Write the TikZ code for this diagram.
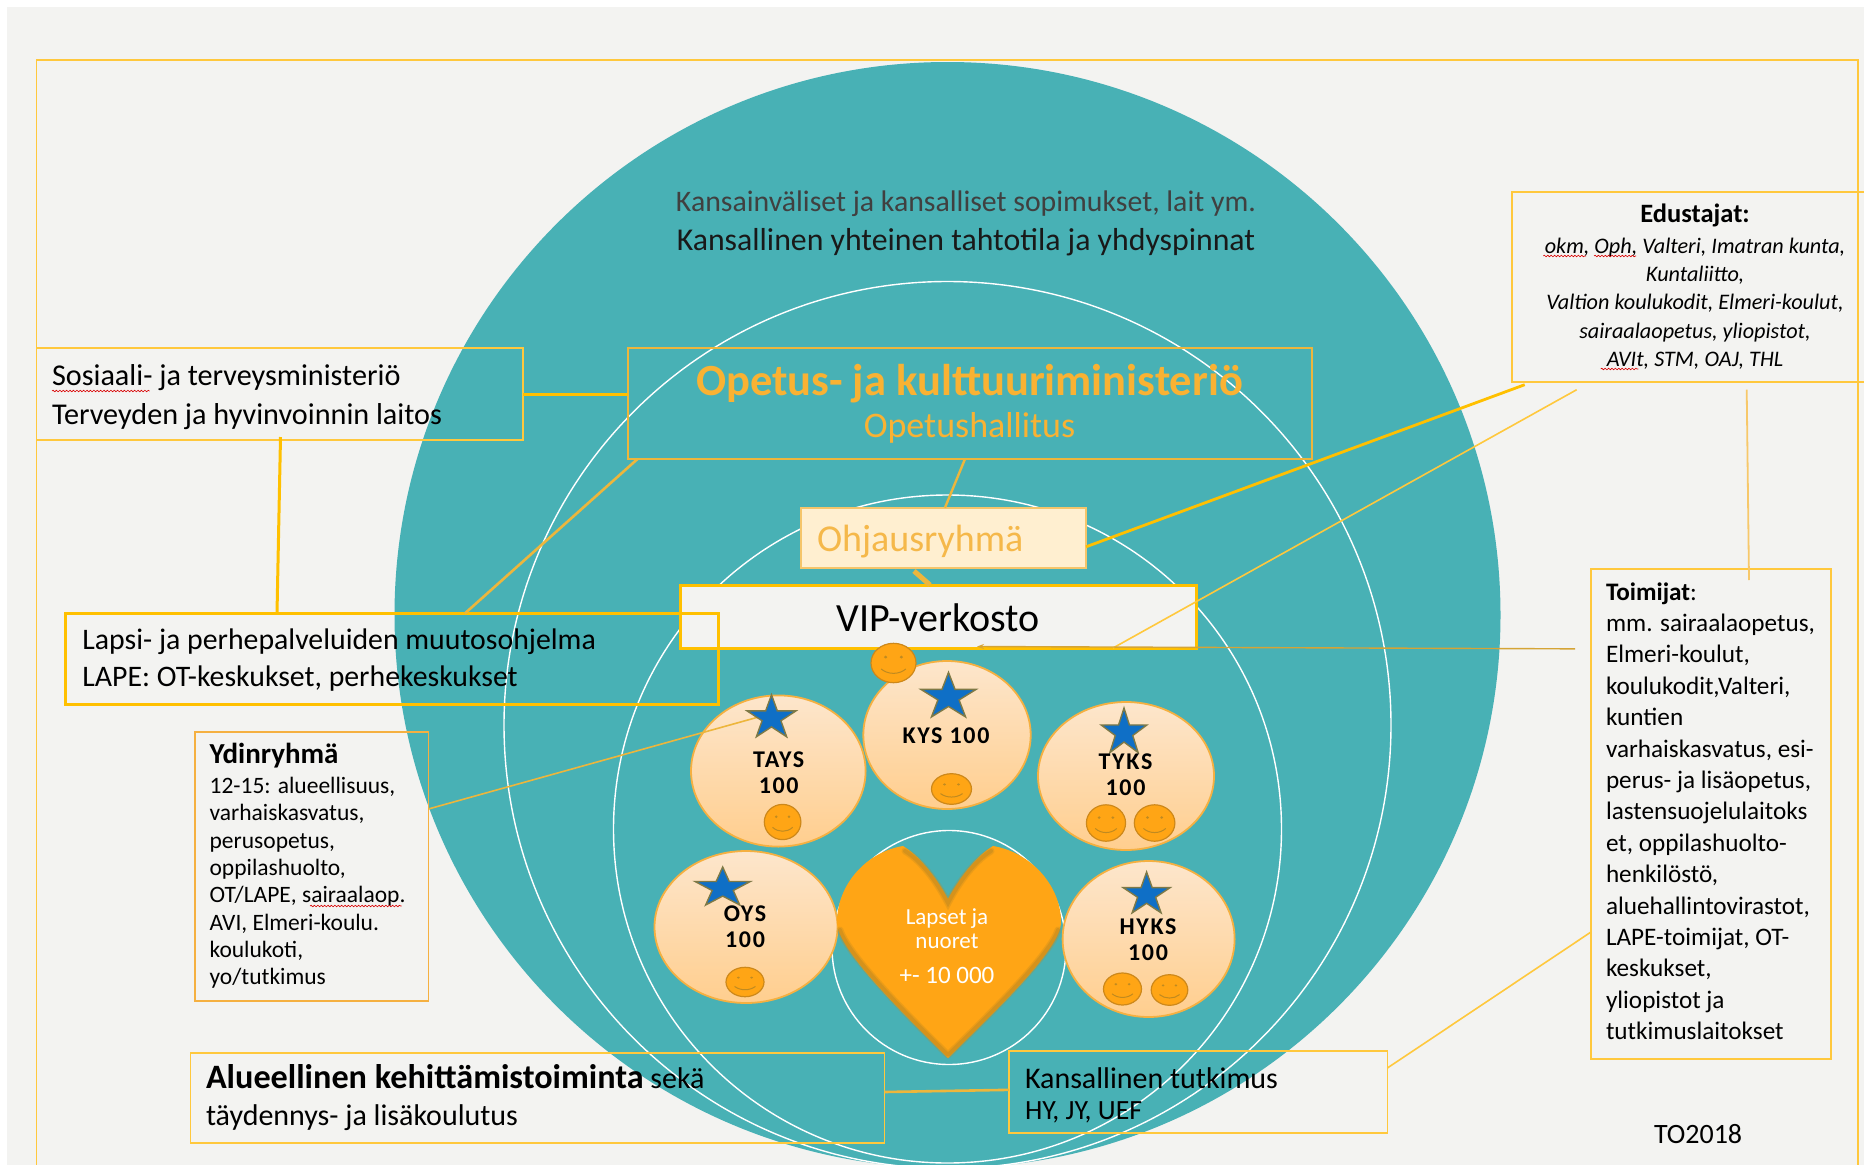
\documentclass[tikz,border=0pt]{standalone}
\usepackage{fontspec}
\setmainfont{Carlito}
\newfontfamily\hospf[LetterSpace=7]{Carlito}
\usetikzlibrary{fit,arrows.meta,decorations.pathmorphing,shapes.geometric}
\definecolor{bgrey}{HTML}{F3F3F1}
\definecolor{teal1}{HTML}{48B1B5}
\definecolor{gold1}{HTML}{FFC000}
\definecolor{gold2}{HTML}{FFC83D}
\definecolor{gold3}{HTML}{EDB63C}
\definecolor{gold4}{HTML}{F5B041}
\definecolor{orangeT}{HTML}{F9B233}
\definecolor{heartO}{HTML}{FFA515}
\definecolor{heartE}{HTML}{C08A20}
\definecolor{starB}{HTML}{0F6FC6}
\definecolor{hospT}{HTML}{FDE6CC}
\definecolor{hospB}{HTML}{FFCE8E}
\definecolor{ohjE}{HTML}{F5C56A}
\definecolor{ohjF}{HTML}{FFEFD0}
\definecolor{ohjT}{HTML}{F5B84A}
\definecolor{lightL}{HTML}{F7C86A}
\newcommand{\fsz}[2]{\fontsize{#1}{#2}\selectfont}
\tikzset{
  x=1pt,y=-1pt,
  rbox/.style={rectangle,inner sep=0pt,outer sep=0pt,draw=#1},
  thinbox/.style={rbox=gold2,line width=1.6pt},
  fatbox/.style={rbox=gold1,line width=3pt},
  txt/.style={inner sep=0pt,outer sep=0pt,align=left,anchor=base west},
  ctxt/.style={inner sep=0pt,outer sep=0pt,align=center,anchor=base},
  hosp/.style={ellipse,inner sep=0pt,draw=gold4,line width=1.8pt,top color=hospT,bottom color=hospB},
  ring/.style={draw=white,line width=1.4pt},
  fatline/.style={draw=gold1,line width=3pt},
  thinline/.style={draw=gold2,line width=1.6pt},
  squig/.style={draw=red!85!black,line width=.6pt,decorate,decoration={snake,amplitude=.8pt,segment length=3.4pt}},
  hlabel/.style={ctxt,font=\hospf\fsz{24}{26}\bfseries},
  bstar/.pic={
    \path[fill=starB,draw=black!45!olive!80,line width=1.4pt,line join=miter]
      (90:25pt)--(126:9.6pt)--(162:25pt)--(198:9.6pt)--(234:25pt)--(270:9.6pt)--(306:25pt)--(342:9.6pt)--(18:25pt)--(54:9.6pt)--cycle;
  },
  smile/.pic={
    \path[fill=heartO,draw=heartE!80!orange,line width=1.2pt] (0,0) circle[radius=20];
    \fill[heartE] (-7,-6) circle[radius=1.5] (7,-6) circle[radius=1.5];
    \draw[heartE,line width=1pt] (-11,6) .. controls (-5,12) and (5,12) .. (11,6);
  },
}
\newcommand{\smiley}[4]{\pic[xscale=#3/20,yscale=#4/20] at (#1,#2) {smile};}
\newcommand{\hstar}[4]{\pic[xscale=#3/25,yscale=#4/25] at (#1,#2) {bstar};}
\begin{document}
\begin{tikzpicture}
\clip (0,0) rectangle (1864,1165);
\fill[white] (0,0) rectangle (1864,1165);
\fill[bgrey] (7,7) rectangle (1870,1170);
\node (outer) [thinbox,fit={(36.5,60) (1858,1200)}] {};
% circles
\fill[teal1] (947.5,615) circle[radius=553];
\path[ring] (947.5,725) circle[radius=443.5];
\path[ring] (947.5,829) circle[radius=334];
\path[ring] (949,947.5) circle[radius=117];

\node (kv1) [ctxt,font=\fsz{29.8}{34},text=black!75] at (966,211) {Kansainväliset ja kansalliset sopimukset, lait ym.};
\node (kv2) [ctxt,font=\fsz{31.8}{38},text=black!90] at (966,250) {Kansallinen yhteinen tahtotila ja yhdyspinnat};

% boxes
\node (sos) [thinbox,fit={(36.5,348) (523,440)}] {};
\node (ope) [rbox=gold3,line width=1.6pt,fit={(628,348) (1312,459)}] {};
\node (vip) [fatbox,fill=bgrey,fit={(680,585) (1196,648)}] {};
\node (ohj) [rbox=ohjE,fill=ohjF,line width=2pt,fit={(801,507.6) (1086,568)}] {};
\node (lape) [fatbox,fit={(65.4,613.5) (718,704)}] {};
\node (ydin) [rbox=gold4,line width=1.6pt,fit={(195,732) (428.4,1000.7)}] {};
\node (alu) [thinbox,fit={(190.4,1053) (884.5,1143)}] {};
\node (kan) [thinbox,fit={(1009,1051) (1387.4,1132.7)}] {};
\node (edu) [thinbox,fit={(1511.7,192) (1890,381.7)}] {};
\node (toi) [thinbox,line width=2pt,fit={(1591,569) (1831,1058.7)}] {};

% circles of hospitals
\node (tays) [hosp,minimum width=174.6,minimum height=151.2] at (778.3,771) {};
\node (kys) [hosp,minimum width=167.4,minimum height=148] at (947,735) {};
\node (tyks) [hosp,minimum width=176,minimum height=148] at (1126,776) {};
\node (oys) [hosp,minimum width=183,minimum height=152] at (746,927) {};
\node (hyks) [hosp,minimum width=172,minimum height=156] at (1148.6,939) {};

% connectors
\coordinate (tstar) at (758.5,717);
\draw[fatline] (sos.east) -- (sos.east -| ope.west);
\draw[fatline] ([xshift=244pt,yshift=3pt]sos.south west) -- ([xshift=211.6pt]lape.north west);
\draw[fatline,line width=2.6pt,draw=gold3] ([xshift=9.5pt]ope.south west) -- ([xshift=399.4pt]lape.north west);
\draw[draw=gold3,line width=2.4pt] ([xshift=337pt]ope.south west) -- ([xshift=144pt]ohj.north west);
\draw[draw=gold3,line width=5pt] ([xshift=113pt,yshift=-3pt]ohj.south west) -- ([xshift=250pt]vip.north west);
\draw[fatline,line width=2.8pt] ([yshift=-9pt]ohj.east) -- ([xshift=13pt,yshift=-3pt]edu.south west);
\draw[thinline] ([xshift=433pt]vip.south west) -- ([xshift=65pt,yshift=-8pt]edu.south west);
\draw[draw=gold3!90!black,line width=1.4pt,-{Stealth[length=7pt,width=5pt]}] ([xshift=-16pt,yshift=165pt]toi.west) -- ([xshift=297pt,yshift=1.5pt]vip.south west);
\draw[draw=lightL,line width=1.8pt] ([xshift=235pt,yshift=-8pt]edu.south west) -- ([xshift=158pt,yshift=-11pt]toi.north west);
\draw[thinline] ([yshift=-17pt]kan.north east) -- ([yshift=-363pt]toi.north west);
\draw[fatline,line width=2.6pt,draw=gold3] ([yshift=6pt]alu.east) -- ([yshift=2pt]kan.west);
\draw[draw=gold3,line width=1.6pt] ([yshift=-77pt]ydin.north east) -- (tstar);

% heart
\fill[heartO] (948,899) .. controls (935,875) and (918,855) .. (903,846) .. controls (866,852) and (837,885) .. (837,922) .. controls (837,950) and (905,1015) .. (948,1058) .. controls (991,1015) and (1061,950) .. (1061,922) .. controls (1061,885) and (1030,852) .. (993,846) .. controls (978,855) and (961,875) .. (948,899) -- cycle;
\draw[heartE,line width=7pt,opacity=.3,line cap=round] (905,851) .. controls (920,860) and (936,880) .. (948,903) .. controls (960,880) and (976,860) .. (991,851);
\draw[heartE,line width=4pt,opacity=.5,line cap=round] (905,851) .. controls (920,860) and (936,880) .. (948,903) .. controls (960,880) and (976,860) .. (991,851);
\draw[heartE,line width=7pt,opacity=.3,line join=round,line cap=round] (840,930) .. controls (848,955) and (908,1016) .. (948,1055) .. controls (988,1016) and (1050,955) .. (1058,930);
\draw[heartE,line width=4pt,opacity=.5,line join=round,line cap=round] (840,930) .. controls (848,955) and (908,1016) .. (948,1055) .. controls (988,1016) and (1050,955) .. (1058,930);

% stars
\hstar{771.5}{718}{25.8}{23.2}
\hstar{948.5}{697}{29}{24.6}
\hstar{1124}{732.6}{24}{24.6}
\hstar{722.7}{888}{29}{21}
\hstar{1146.6}{894.6}{24.7}{22.6}
% smileys
\smiley{893.5}{663}{22.5}{19.7}
\smiley{782.6}{822}{18.3}{17.6}
\smiley{951.5}{789}{20}{15.3}
\smiley{1106}{823}{19.6}{18.2}
\smiley{1154.6}{823}{20.3}{18.2}
\smiley{745}{982}{19}{14.7}
\smiley{1122.5}{989}{19}{16}
\smiley{1169.5}{990}{18.3}{15.3}

% texts
\node (sost) [txt,font=\fsz{30.2}{39}] at (52,424) {Sosiaali- ja terveysministeriö\\Terveyden ja hyvinvoinnin laitos};
\node (opet) [ctxt,font=\fsz{44.5}{44}\bfseries,text=orangeT] at (969.5,395) {Opetus- ja kulttuuriministeriö};
\node (opet2) [ctxt,font=\fsz{36}{38},text=orangeT] at (969.5,437) {Opetushallitus};
\node (ohjt) [txt,font=\fsz{38}{46},text=ohjT] at (817,551) {Ohjausryhmä};
\node (vipt) [ctxt,font=\fsz{40}{44}] at (938,631) {VIP-verkosto};
\node (lapet) [txt,font=\fsz{29.8}{37}] at (82.4,686) {Lapsi- ja perhepalveluiden muutosohjelma\\LAPE: OT-keskukset, perhekeskukset};
\node (ydint) [txt,font=\fsz{29}{27.3}\bfseries] at (209.6,763) {Ydinryhmä};
\node (ydinb) [txt,font=\fsz{23.5}{27.3}] at (209.6,984.6) {12-15: alueellisuus,\\varhaiskasvatus,\\perusopetus,\\oppilashuolto,\\OT/LAPE, sairaalaop.\\AVI, Elmeri-koulu.\\koulukoti,\\yo/tutkimus};
\node (alut) [txt,font=\fsz{30}{36.7}] at (206,1125.4) {{\fontsize{34.2}{36.7}\selectfont\bfseries Alueellinen kehittämistoiminta} sekä\\täydennys- ja lisäkoulutus};
\node (kant) [txt,font=\fsz{30}{34}] at (1025,1088) {Kansallinen tutkimus};
\node (kant2) [txt,font=\fsz{27.8}{30}] at (1025,1119) {HY, JY, UEF};
\node (edut) [ctxt,font=\fsz{26.5}{28}\bfseries] at (1695,222.7) {Edustajat:};
\node (edub) [ctxt,font=\fsz{22.2}{28.4}\itshape] at (1695,366.7) {okm, Oph, Valteri, Imatran kunta,\\Kuntaliitto,\\Valtion koulukodit, Elmeri-koulut,\\sairaalaopetus, yliopistot,\\AVIt, STM, OAJ, THL};
\node (toit) [txt,font=\fsz{25.2}{31.4}] at (1606,1039.6) {\textbf{Toimijat}:\\mm. sairaalaopetus,\\Elmeri-koulut,\\koulukodit,Valteri,\\kuntien\\varhaiskasvatus, esi-\\perus- ja lisäopetus,\\lastensuojelulaitoks\\et, oppilashuolto-\\henkilöstö,\\aluehallintovirastot,\\LAPE-toimijat, OT-\\keskukset,\\yliopistot ja\\tutkimuslaitokset};
\node (tot) [txt,font=\fsz{28}{30}] at (1654,1143) {TO2018};
\node (taysl) [hlabel] at (778.7,793) {TAYS\\100};
\node (kysl) [hlabel] at (946,743) {KYS 100};
\node (tyksl) [hlabel] at (1125.5,795.7) {TYKS\\100};
\node (oysl) [hlabel] at (745,947.7) {OYS\\100};
\node (hyksl) [hlabel] at (1148,960) {HYKS\\100};
\node (hrt) [ctxt,font=\fsz{23}{24.5},text=white] at (947,948.8) {Lapset ja\\nuoret};
\node (hrt2) [ctxt,font=\fsz{25}{28},text=white] at (947,983) {+- 10 000};
% spelling marks
\draw[squig] (52,391) -- (149.5,391);
\draw[squig] (1543.3,256) -- (1586,256);
\draw[squig] (1594,256) -- (1636,256);
\draw[squig] (1600.7,369) -- (1638.3,369);
\draw[squig] (310,906) -- (401.6,906);
\end{tikzpicture}
\end{document}
